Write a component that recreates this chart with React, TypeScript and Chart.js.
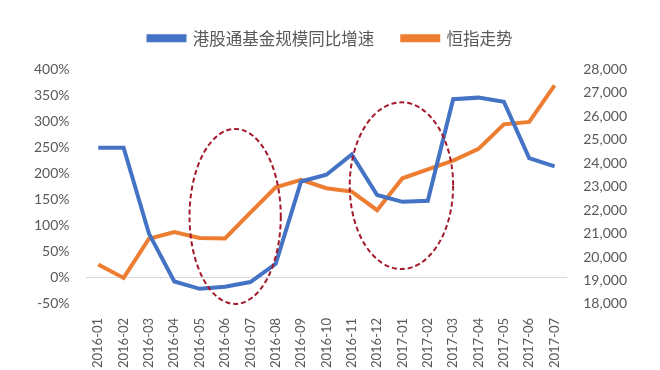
import React, { useEffect, useRef } from "react";
import { Chart, registerables } from "chart.js";

Chart.register(...registerables);

const categories = [
  "2016-01", "2016-02", "2016-03", "2016-04", "2016-05", "2016-06", "2016-07",
  "2016-08", "2016-09", "2016-10", "2016-11", "2016-12", "2017-01", "2017-02",
  "2017-03", "2017-04", "2017-05", "2017-06", "2017-07",
];
const fundGrowth = [250, 250, 85, -7, -21, -17, -8, 27, 185, 198, 237, 159, 146, 148, 343, 346, 338, 230, 214];
const hsiIndex = [19680, 19110, 20780, 21070, 20815, 20794, 21891, 22977, 23297, 22935, 22790, 22001, 23361, 23741, 24112, 24615, 25661, 25765, 27324];
const seriesNames = ["港股通基金规模同比增速", "恒指走势"];
// annotation ellipses: [center category index, center left-axis value, x radius in categories, y radius in %]
const ellipses = [
  [5.4, 118, 1.8, 168],
  [11.96, 177, 2.04, 160],
];

const ellipsePlugin = {
  id: "ellipses",
  beforeInit(chart: any) {
    const legend = chart.legend;
    if (legend) {
      const orig = legend.fit;
      legend.fit = function () {
        orig.call(this);
        this.height += 13;
      };
    }
  },
  afterDatasetsDraw(chart: any) {
    const { ctx, scales } = chart;
    const x = scales.x;
    const y = scales.y;
    const step = x.getPixelForValue(1) - x.getPixelForValue(0);
    ctx.save();
    ctx.strokeStyle = "#A3192B";
    ctx.lineWidth = 2;
    ctx.setLineDash([5, 3]);
    for (const [ci, cv, rxc, ryv] of ellipses) {
      const cx = x.getPixelForValue(0) + ci * step;
      const cy = y.getPixelForValue(cv);
      const rx = rxc * step;
      const ry = Math.abs(y.getPixelForValue(cv + ryv) - cy);
      ctx.beginPath();
      ctx.ellipse(cx, cy, rx, ry, 0, 0, Math.PI * 2);
      ctx.stroke();
    }
    ctx.restore();
  },
};

export default function App() {
  const ref = useRef<HTMLCanvasElement>(null);
  useEffect(() => {
    if (!ref.current) return;
    const tickFont = { family: "Lato, 'Noto Sans', sans-serif", size: 14 };
    const xFont = { family: "Lato, 'Noto Sans', sans-serif", size: 13 };
    const chart = new Chart(ref.current, {
      type: "line",
      data: {
        labels: categories,
        datasets: [
          {
            label: seriesNames[0],
            data: fundGrowth,
            borderColor: "#4472C4",
            backgroundColor: "#4472C4",
            borderWidth: 4,
            pointRadius: 0,
            tension: 0,
            yAxisID: "y",
          },
          {
            label: seriesNames[1],
            data: hsiIndex,
            borderColor: "#ED7D31",
            backgroundColor: "#ED7D31",
            borderWidth: 4,
            pointRadius: 0,
            tension: 0,
            yAxisID: "y1",
          },
        ],
      },
      options: {
        animation: false,
        responsive: true,
        maintainAspectRatio: false,
        layout: { padding: { left: 18, right: 17, top: 2, bottom: -4 } },
        plugins: {
          legend: {
            position: "top",
            labels: {
              boxWidth: 36,
              boxHeight: 4,
              padding: 28,
              color: "#595959",
              font: { family: "'Noto Sans CJK SC', sans-serif", size: 16.5 },
            },
          },
          tooltip: { enabled: false },
        },
        scales: {
          x: {
            offset: true,
            grid: { display: false },
            border: { display: false },
            ticks: {
              maxRotation: 90,
              minRotation: 90,
              color: "#595959",
              font: xFont,
              padding: 6,
            },
          },
          y: {
            position: "left",
            min: -50,
            max: 400,
            border: { display: false },
            grid: {
              color: (c: any) => (c.tick && c.tick.value === 0 ? "#D9D9D9" : "rgba(0,0,0,0)"),
              drawTicks: false,
            },
            ticks: {
              stepSize: 50,
              color: "#595959",
              font: tickFont,
              padding: 16,
              callback: (v: any) => v + "%",
            },
          },
          y1: {
            position: "right",
            min: 18000,
            max: 28000,
            border: { display: false },
            grid: { display: false, drawTicks: false },
            ticks: {
              stepSize: 1000,
              color: "#595959",
              font: tickFont,
              padding: 16,
              callback: (v: any) => Number(v).toLocaleString("en-US"),
            },
          },
        },
      },
      plugins: [ellipsePlugin],
    });
    return () => chart.destroy();
  }, []);
  return (
    <div style={{ position: "fixed", left: 0, top: 0, width: 660, height: 370, background: "#fff" }}>
      <canvas ref={ref} />
    </div>
  );
}
